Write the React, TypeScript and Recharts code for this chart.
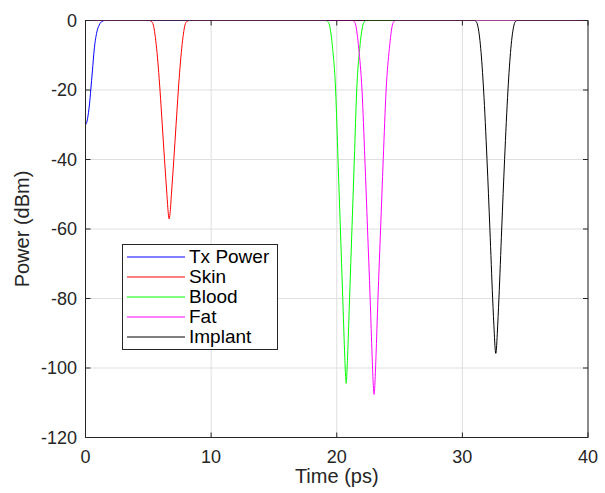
import React from 'react';
import { LineChart, Line, XAxis, YAxis, CartesianGrid, ReferenceLine, Legend, Label } from 'recharts';

// axis ticks
const xTicks = [0, 10, 20, 30, 40];
const yTicks = [-120, -100, -80, -60, -40, -20, 0];

// values (time in ps, power in dBm)
const txTime = [0, 0.1, 0.21, 0.32, 0.42, 0.55, 0.69, 0.88, 1.09, 1.3, 1.54, 40];
const txPower = [-30, -29.3, -27.2, -24, -20, -14.5, -8.5, -3.7, -1.3, -0.3, 0, 0];

const skinTime = [0, 5.06, 5.26, 5.4, 5.66, 5.93, 6.11, 6.29, 6.48, 6.59, 6.66, 6.73, 6.84, 7.03, 7.21, 7.39, 7.66, 7.92, 8.06, 8.26, 40];
const skinPower = [0, 0, -0.3, -1.3, -8, -20, -30, -40, -50, -55.5, -57.1, -55.5, -50, -40, -30, -20, -8, -1.3, -0.3, 0, 0];

const bloodTime = [0, 19.15, 19.3, 19.42, 19.67, 19.91, 20.1, 20.29, 20.48, 20.62, 20.7, 20.75, 20.8, 20.88, 21.02, 21.21, 21.4, 21.59, 21.83, 22.08, 22.2, 22.35, 40];
const bloodPower = [0, 0, -0.3, -1.3, -8, -20, -40, -60, -80, -95, -102, -104.4, -102, -95, -80, -60, -40, -20, -8, -1.3, -0.3, 0, 0];

const fatTime = [0, 21.25, 21.39, 21.51, 21.75, 22.01, 22.24, 22.45, 22.66, 22.82, 22.91, 22.97, 23.03, 23.12, 23.28, 23.49, 23.7, 23.93, 24.19, 24.43, 24.55, 24.69, 40];
const fatPower = [0, 0, -0.3, -1.3, -8, -20, -40, -60, -80, -97, -105, -107.6, -105, -97, -80, -60, -40, -20, -8, -1.3, -0.3, 0, 0];

const implantTime = [0, 30.96, 31.1, 31.21, 31.46, 31.69, 31.96, 32.19, 32.41, 32.54, 32.61, 32.66, 32.71, 32.78, 32.91, 33.13, 33.36, 33.63, 33.86, 34.11, 34.22, 34.36, 40];
const implantPower = [0, 0, -0.3, -1.3, -8, -20, -40, -60, -80, -90, -94.5, -95.8, -94.5, -90, -80, -60, -40, -20, -8, -1.3, -0.3, 0, 0];

const toPoints = (t: number[], p: number[]) => t.map((x, i) => ({ t: x, p: p[i] }));

const series = [
  { name: 'Tx Power', color: '#0000ff', data: toPoints(txTime, txPower) },
  { name: 'Skin', color: '#ff0000', data: toPoints(skinTime, skinPower) },
  { name: 'Blood', color: '#00ff00', data: toPoints(bloodTime, bloodPower) },
  { name: 'Fat', color: '#ff00ff', data: toPoints(fatTime, fatPower) },
  { name: 'Implant', color: '#000000', data: toPoints(implantTime, implantPower) },
];

const FONT = '"Liberation Sans", Arial, Helvetica, sans-serif';
const AXIS = '#262626';
const GRID = '#dfdfdf';

const W = 605;
const H = 493;
const PLOT_LEFT = 85.5;
const PLOT_RIGHT = 588;
const PLOT_TOP = 20.5;
const PLOT_BOTTOM = 437.5;
const TICK_LEN = 5;

// matlab style: ticks point inward, on both sides of the box
const XTick = (props: any) => {
  const { x, payload } = props;
  return (
    <g>
      <line x1={x} x2={x} y1={PLOT_BOTTOM} y2={PLOT_BOTTOM - TICK_LEN} stroke={AXIS} />
      <line x1={x} x2={x} y1={PLOT_TOP} y2={PLOT_TOP + TICK_LEN} stroke={AXIS} />
      <text x={x} y={PLOT_BOTTOM + 25.5} textAnchor="middle" fontFamily={FONT} fontSize={18} fill={AXIS}>
        {payload.value}
      </text>
    </g>
  );
};

const YTick = (props: any) => {
  const { y, payload } = props;
  return (
    <g>
      <line x1={PLOT_LEFT} x2={PLOT_LEFT + TICK_LEN} y1={y} y2={y} stroke={AXIS} />
      <line x1={PLOT_RIGHT} x2={PLOT_RIGHT - TICK_LEN} y1={y} y2={y} stroke={AXIS} />
      <text x={PLOT_LEFT - 8.5} y={y + 6.4} textAnchor="end" fontFamily={FONT} fontSize={18} fill={AXIS}>
        {payload.value}
      </text>
    </g>
  );
};

const LegendBox = () => (
  <div
    style={{
      border: `1px solid ${AXIS}`,
      background: '#fff',
      width: 154,
      padding: '2px 0',
      fontFamily: FONT,
      fontSize: 19,
      lineHeight: '20px',
      color: '#000',
      boxSizing: 'content-box',
    }}
  >
    {series.map((s) => (
      <div key={s.name} style={{ display: 'flex', alignItems: 'center', height: 20 }}>
        <svg width={66} height={20} style={{ display: 'block', flex: 'none' }}>
          <line x1={4} x2={62} y1={10} y2={10} stroke={s.color} strokeWidth={1.2} />
        </svg>
        <span style={{ whiteSpace: 'nowrap' }}>{s.name}</span>
      </div>
    ))}
  </div>
);

export default function App() {
  return (
    <div style={{ position: 'absolute', left: 0, top: 0, width: W, height: H, background: '#fff' }}>
      <LineChart width={W} height={H} margin={{ top: PLOT_TOP, right: W - PLOT_RIGHT, bottom: 0, left: 0 }}>
        <CartesianGrid stroke={GRID} />
        <XAxis
          type="number"
          dataKey="t"
          domain={[0, 40]}
          ticks={xTicks}
          height={H - PLOT_BOTTOM}
          stroke={AXIS}
          tickLine={false}
          tick={<XTick />}
          allowDataOverflow
        >
          <Label value="Time (ps)" position="center" dy={11} style={{ fontFamily: FONT, fontSize: 20, fill: AXIS }} />
        </XAxis>
        <YAxis
          type="number"
          domain={[-120, 0]}
          ticks={yTicks}
          width={PLOT_LEFT}
          stroke={AXIS}
          tickLine={false}
          tick={<YTick />}
          allowDataOverflow
        >
          <Label
            value="Power (dBm)"
            angle={-90}
            position="center"
            dx={-21}
            style={{ fontFamily: FONT, fontSize: 20, fill: AXIS, textAnchor: 'middle' }}
          />
        </YAxis>
        <ReferenceLine y={0} stroke={AXIS} />
        <ReferenceLine x={40} stroke={AXIS} />
        {series.map((s) => (
          <Line
            key={s.name}
            data={s.data}
            dataKey="p"
            name={s.name}
            type="monotone"
            stroke={s.color}
            strokeWidth={1}
            dot={false}
            activeDot={false}
            isAnimationActive={false}
          />
        ))}
        <Legend
          layout="horizontal"
          align="center"
          verticalAlign="middle"
          content={<LegendBox />}
          wrapperStyle={{ left: 122, top: 244, width: 156, height: 106 }}
        />
      </LineChart>
    </div>
  );
}
